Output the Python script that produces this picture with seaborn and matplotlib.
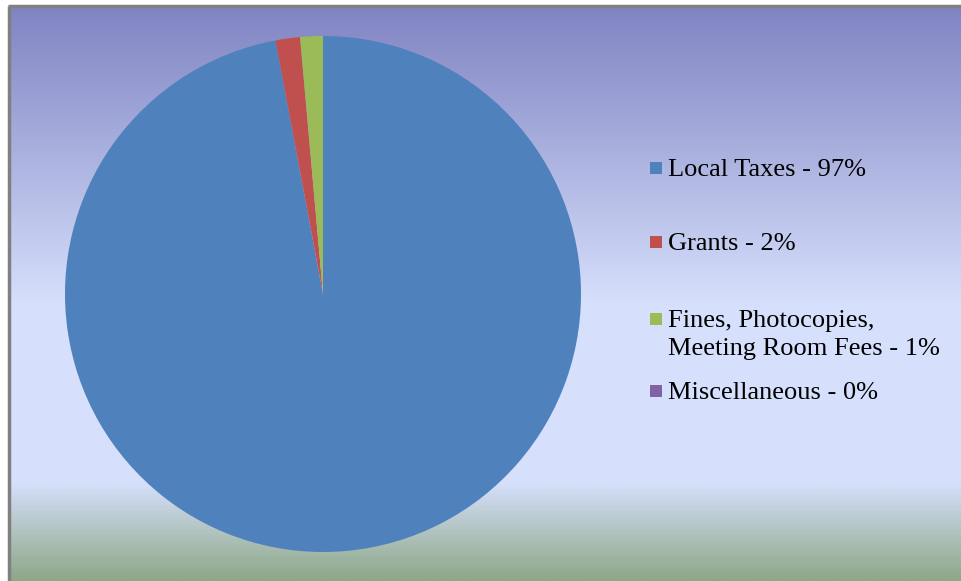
import numpy as np
import matplotlib
matplotlib.use('Agg')
import matplotlib.pyplot as plt
from matplotlib.patches import Rectangle
from matplotlib.colors import LinearSegmentedColormap
import seaborn as sns

# data
labels = ['Local Taxes - 97%', 'Grants - 2%',
          'Fines, Photocopies,\nMeeting Room Fees - 1%', 'Miscellaneous - 0%']
values = [97.05, 1.53, 1.42, 0.0]
colors = ['#4F81BD', '#C0504D', '#9BBB59', '#8064A2']

sns.set_theme(style='white')
plt.rcParams['font.family'] = ['Liberation Serif', 'DejaVu Serif']

W, H = 961, 581
fig = plt.figure(figsize=(W / 100, H / 100), dpi=100)
fig.patch.set_facecolor('white')

# background: vertical gradient inside the chart frame (pixel coords)
bg = fig.add_axes([0, 0, 1, 1])
bg.set_xlim(0, W)
bg.set_ylim(H, 0)
bg.axis('off')
stops = [(0.0, (128, 132, 194)), (0.52, (214, 224, 252)),
         (0.83, (214, 224, 252)), (1.0, (142, 168, 136))]
cmap = LinearSegmentedColormap.from_list(
    'bg', [(p, tuple(c / 255 for c in rgb)) for p, rgb in stops])
grad = np.linspace(0, 1, 400).reshape(-1, 1)
bg.imshow(grad, cmap=cmap, aspect='auto', extent=[9, W, H, 6],
          interpolation='bilinear', zorder=0)
bg.plot([9, 9], [H, 5.5], color='#808080', lw=2.5, zorder=1, solid_capstyle='butt')
bg.plot([8, W], [6, 6], color='#808080', lw=2.5, zorder=1, solid_capstyle='butt')

# pie
cx, cy, r = 323, 294, 258
ax = fig.add_axes([(cx - r) / W, (H - cy - r) / H, 2 * r / W, 2 * r / H])
ax.pie(values, colors=colors, startangle=90, counterclock=False, radius=1,
       wedgeprops=dict(linewidth=0))
ax.set_xlim(-1, 1)
ax.set_ylim(-1, 1)
ax.set_aspect('equal')
ax.axis('off')

# legend, drawn by hand to follow the uneven row spacing
baselines = [176, 250, 327, 399]
for lab, col, yb in zip(labels, colors, baselines):
    bg.add_patch(Rectangle((650, yb - 14), 12, 12, facecolor=col,
                           edgecolor='none', zorder=2))
    for i, line in enumerate(lab.split('\n')):
        bg.text(668, yb + i * 28, line, fontsize=19, va='baseline', ha='left',
                color='black', zorder=2)

fig.savefig('out.png', dpi=100)
